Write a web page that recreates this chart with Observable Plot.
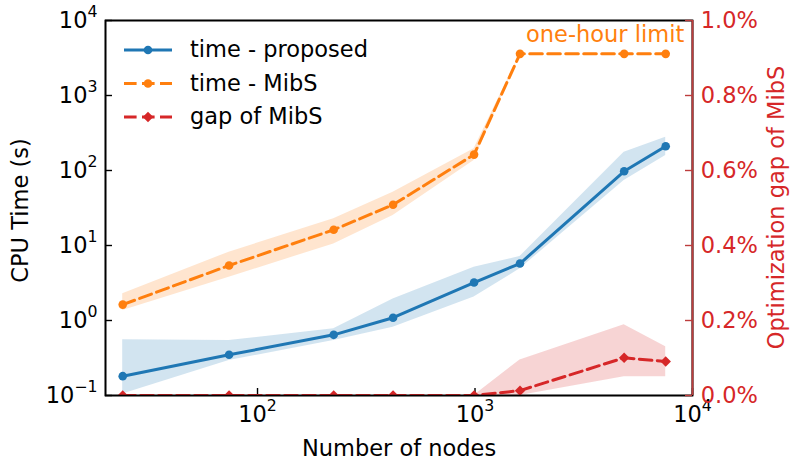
<!DOCTYPE html>
<html>
<head>
<meta charset="utf-8">
<script src="https://cdn.jsdelivr.net/npm/d3@7"></script>
<script src="https://cdn.jsdelivr.net/npm/@observablehq/plot@0.6"></script>
<style>
  html, body { margin: 0; padding: 0; background: #fff; }
  #wrap { position: relative; width: 790px; height: 460px; font-family: "DejaVu Sans", sans-serif; }
  #wrap > svg { position: absolute; left: 0; top: 0; }
</style>
</head>
<body>
<div id="wrap"></div>
<script>
// ---- data ----
const nodes = [24, 74, 224, 420, 990, 1610, 4850, 7530];
const timeProposed   = [0.181, 0.349, 0.644, 1.09, 3.21, 5.75, 97.7, 211];
const timeProposedLo = [0.105, 0.293, 0.541, 0.815, 2.05, 4.89, 73.6, 158];
const timeProposedHi = [0.553, 0.54, 0.774, 1.94, 5.14, 7.13, 175, 278];
const timeMibs   = [1.63, 5.41, 16.2, 34.9, 163, 3590, 3590, 3590];
const timeMibsLo = [1.36, 3.77, 10.5, 25.1, 136, 3590, 3590, 3590];
const timeMibsHi = [2.27, 8.15, 22.7, 51.4, 195, 3590, 3590, 3590];
const gapMibs   = [0, 0, 0, 0, 0, 0.013, 0.1005, 0.0907];   // percent
const gapMibsLo = [0, 0, 0, 0, 0, 0, 0.05, 0.05];
const gapMibsHi = [0, 0, 0, 0, 0, 0.095, 0.1885, 0.13];
const xTicks = [100, 1000, 10000];
const yTicks = [0.1, 1, 10, 100, 1000, 10000];
const gapTicks = [0, 0.2, 0.4, 0.6, 0.8, 1.0];
const xDomain = [20, 10000];
const yDomain = [0.1, 10000];
const gapDomain = [0, 1];
const limitLabel = [{x: 9160, y: 5140, text: "one-hour limit"}];
const legendItems = [
  {label: "time - proposed", color: "#1f77b4", dash: null, symbol: "circle"},
  {label: "time - MibS", color: "#ff7f0e", dash: "12.6,5.4", symbol: "circle"},
  {label: "gap of MibS", color: "#d62728", dash: "12.6,5.4", symbol: "diamond"}
];

const rows = nodes.map((n, i) => ({
  n, p: timeProposed[i], plo: timeProposedLo[i], phi: timeProposedHi[i],
  m: timeMibs[i], mlo: timeMibsLo[i], mhi: timeMibsHi[i],
  g: gapMibs[i], glo: gapMibsLo[i], ghi: gapMibsHi[i]
}));

// ---- layout ----
const W = 790, H = 460, mL = 105, mR = 98, mT = 20, mB = 65;
const frameW = W - mL - mR, frameH = H - mT - mB;
const FS = "22.5px";
const BLUE = "#1f77b4", ORANGE = "#ff7f0e", RED = "#d62728", SPINE_RED = "#bd3d3d";
const DASH = "12.6,5.4";
const logFmt = d => "10^" + String(Math.round(Math.log10(d))).replace("-", "\u2212");

const common = {
  width: W, height: H, marginLeft: mL, marginRight: mR, marginTop: mT, marginBottom: mB,
  style: {fontFamily: "DejaVu Sans, sans-serif", fontSize: FS, background: "transparent", color: "black", overflow: "visible"}
};

const p1 = Plot.plot({
  ...common,
  x: {type: "log", domain: xDomain, label: null},
  y: {type: "log", domain: yDomain, label: null},
  marks: [
    Plot.areaY(rows, {x: "n", y1: "plo", y2: "phi", fill: BLUE, fillOpacity: 0.2, clip: true}),
    Plot.areaY(rows, {x: "n", y1: "mlo", y2: "mhi", fill: ORANGE, fillOpacity: 0.2, clip: true}),
    Plot.line(rows, {x: "n", y: "p", stroke: BLUE, strokeWidth: 3, clip: true}),
    Plot.dot(rows, {x: "n", y: "p", fill: BLUE, r: 4.3, clip: true}),
    Plot.line(rows, {x: "n", y: "m", stroke: ORANGE, strokeWidth: 3, strokeDasharray: DASH, clip: true}),
    Plot.dot(rows, {x: "n", y: "m", fill: ORANGE, r: 4.3, clip: true}),
    Plot.text(limitLabel, {x: "x", y: "y", text: "text", fill: ORANGE, textAnchor: "end", lineAnchor: "bottom", fontSize: FS}),
    Plot.tickY(yTicks, {y: d => d, insetRight: frameW - 7, stroke: "black", strokeWidth: 1.4}),
    Plot.tickX(xTicks, {x: d => d, insetTop: frameH - 7, stroke: "black", strokeWidth: 1.4}),
    Plot.axisY(yTicks, {tickSize: 0, tickPadding: 8, tickFormat: logFmt, label: null, dy: 0.5, fontSize: FS}),
    Plot.axisX(xTicks, {tickSize: 0, tickPadding: 10.5, tickFormat: logFmt, label: null, fontSize: FS}),
    Plot.frame({stroke: "black", strokeWidth: 1.6}),
    Plot.text(["CPU Time (s)"], {frameAnchor: "left", textAnchor: "middle", rotate: -90, dx: -78, dy: 2.5, lineAnchor: "bottom", fontSize: FS}),
    Plot.text(["Number of nodes"], {frameAnchor: "bottom", textAnchor: "middle", dy: 60, lineAnchor: "bottom", fontSize: FS})
  ]
});

const p2 = Plot.plot({
  ...common,
  x: {type: "log", domain: xDomain, label: null, axis: null},
  y: {type: "linear", domain: gapDomain, label: null},
  marks: [
    Plot.areaY(rows, {x: "n", y1: "glo", y2: "ghi", fill: RED, fillOpacity: 0.2, clip: true}),
    Plot.line(rows, {x: "n", y: "g", stroke: RED, strokeWidth: 3, strokeDasharray: DASH, clip: true}),
    Plot.dot(rows, {x: "n", y: "g", symbol: "diamond2", fill: RED, r: 4.7, clip: true}),
    Plot.frame({stroke: "black", strokeWidth: 1.6}),
    Plot.ruleX([xDomain[1]], {stroke: SPINE_RED, strokeWidth: 1.8}),
    Plot.tickY(gapTicks, {y: d => d, insetLeft: frameW - 7, stroke: SPINE_RED, strokeWidth: 1.4}),
    Plot.axisY(gapTicks, {anchor: "right", tickSize: 0, tickPadding: 8.3, tickFormat: d => d.toFixed(1) + "%", label: null, fill: RED, fontSize: FS}),
    Plot.text(["Optimization gap of MibS"], {frameAnchor: "right", textAnchor: "middle", rotate: -90, dx: 91.3, dy: -0.5, lineAnchor: "bottom", fill: RED, fontSize: FS})
  ]
});

function supify(svg) {
  d3.select(svg).selectAll("text").each(function() {
    const t = this.textContent;
    const m = /^10\^(.+)$/.exec(t);
    if (!m) return;
    this.textContent = "";
    const s = d3.select(this);
    s.append("tspan").text("10");
    s.append("tspan").attr("dy", "-11").attr("font-size", "0.7em").text(m[1]);
  });
}
supify(p1);

const wrap = document.getElementById("wrap");
wrap.appendChild(p1);
wrap.appendChild(p2);

// ---- legend ----
const leg = d3.create("svg").attr("width", W).attr("height", H)
  .style("font-family", "DejaVu Sans, sans-serif").style("font-size", FS);
const gL = leg.selectAll("g").data(legendItems).join("g")
  .attr("transform", (d, i) => `translate(0, ${50 + i * 33.5})`);
gL.append("line").attr("x1", 124).attr("x2", 172).attr("y1", 0).attr("y2", 0)
  .attr("stroke", d => d.color).attr("stroke-width", 3)
  .attr("stroke-dasharray", d => d.dash);
gL.append("path")
  .attr("d", d => d.symbol === "circle" ? d3.symbol(d3.symbolCircle, Math.PI * 4.3 * 4.3)() : d3.symbol(d3.symbolDiamond2, Math.PI * 4.7 * 4.7)())
  .attr("transform", "translate(148,0)")
  .attr("fill", d => d.color);
gL.append("text").attr("x", 190).attr("y", 0).attr("dy", "0.32em").attr("fill", "black").text(d => d.label);
wrap.appendChild(leg.node());
</script>
</body>
</html>
